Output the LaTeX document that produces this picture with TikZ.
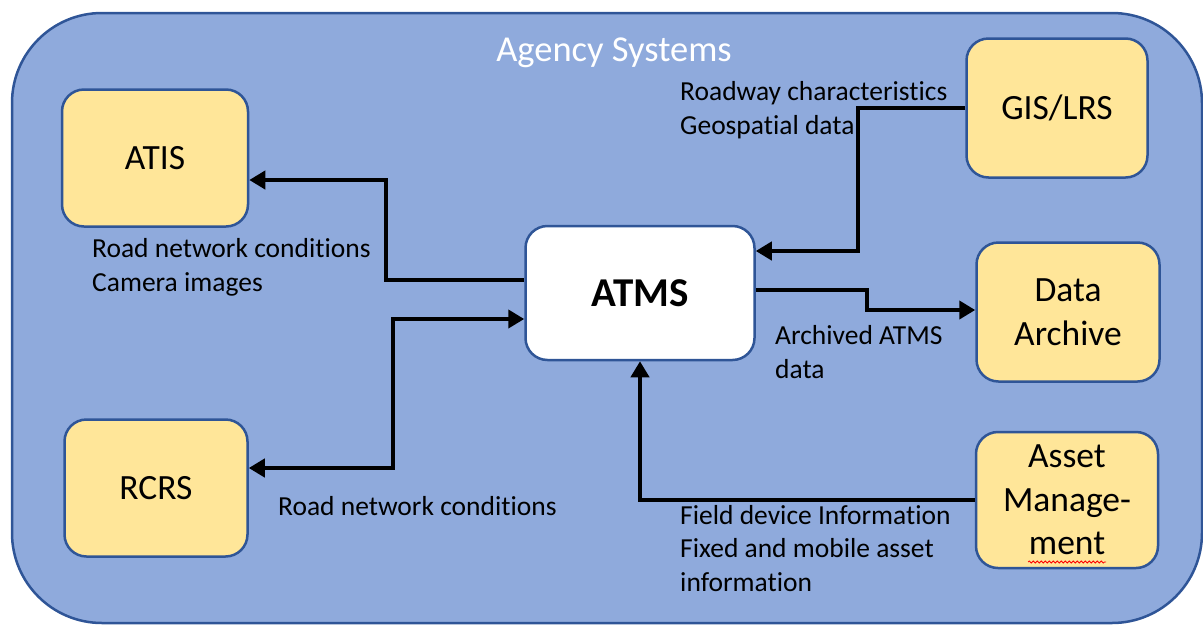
\documentclass[tikz,border=0pt]{standalone}
\usepackage{fontspec}
\setmainfont[Ligatures=NoCommon]{Carlito}
\usetikzlibrary{arrows.meta,decorations.pathmorphing}
\definecolor{outerfill}{HTML}{8FAADC}
\definecolor{edgeblue}{HTML}{2F5597}
\definecolor{boxyellow}{HTML}{FFE699}
\tikzset{
  sysbox/.style={draw=edgeblue, line width=2.5pt, fill=boxyellow, rounded corners=22pt,
    inner sep=0pt, align=center, font=\fontsize{35.5}{43.5}\selectfont},
  flow/.style={line width=4pt, -{Triangle[length=16pt,width=18pt]}},
  biflow/.style={line width=4pt, {Triangle[length=16pt,width=18pt]}-{Triangle[length=16pt,width=18pt]}},
  lbl/.style={anchor=base west, inner sep=0pt, align=left, font=\fontsize{27.5}{33.5}\selectfont},
}
\begin{document}
\begin{tikzpicture}[x=1pt,y=-1pt]
\useasboundingbox (0,0) rectangle (1203,625);
\draw[draw=edgeblue, line width=2.5pt, fill=outerfill, rounded corners=90pt] (12,13) rectangle (1202,623);
\node[anchor=base, text=white, inner sep=0pt, font=\fontsize{36.5}{44}\selectfont] (title) at (614,61) {Agency Systems};

\node[sysbox, minimum width=186pt, minimum height=137pt] (atis) at (155,158) {ATIS};
\node[sysbox, minimum width=183pt, minimum height=137pt] (rcrs) at (156,488) {RCRS};
\node[sysbox, fill=white, minimum width=229pt, minimum height=134pt, font=\fontsize{41}{48}\selectfont\bfseries] (atms) at (640,293) {ATMS};
\node[sysbox, minimum width=181pt, minimum height=139pt] (gis) at (1057,108) {GIS/LRS};
\node[sysbox, minimum width=183pt, minimum height=139pt] (da) at (1068,312) {Data\\Archive};
\node[sysbox, minimum width=182pt, minimum height=136pt] (am) at (1067,500) {Asset\\Manage-\\ment};

\draw[flow] ([yshift=13pt]atms.west) -- ++(-138,0) |- ([yshift=-22pt]atis.east);
\draw[biflow] ([yshift=20pt]rcrs.east) -- ++(144,0) |- ([yshift=-26pt]atms.west);
\draw[flow] (gis.west) -- ++(-107,0) |- ([yshift=42pt]atms.east);
\draw[flow] ([yshift=3pt]atms.east) -- ++(111,0) |- ([yshift=2pt]da.west);
\draw[flow] (am.west) -| (atms.south);

\node[lbl] (l1) at (92,291) {Road network conditions\\Camera images};
\node[lbl] (l2) at (278,515) {Road network conditions};
\node[lbl] (l3) at (680,134) {Roadway characteristics\\Geospatial data};
\node[lbl] (l4) at (775,378) {Archived ATMS\\data};
\node[lbl] (l5) at (680,591) {Field device Information\\Fixed and mobile asset\\information};

\draw[red, line width=0.8pt, decorate, decoration={snake, segment length=4pt, amplitude=1pt}] (1028,562) -- (1106,562);
\end{tikzpicture}
\end{document}
